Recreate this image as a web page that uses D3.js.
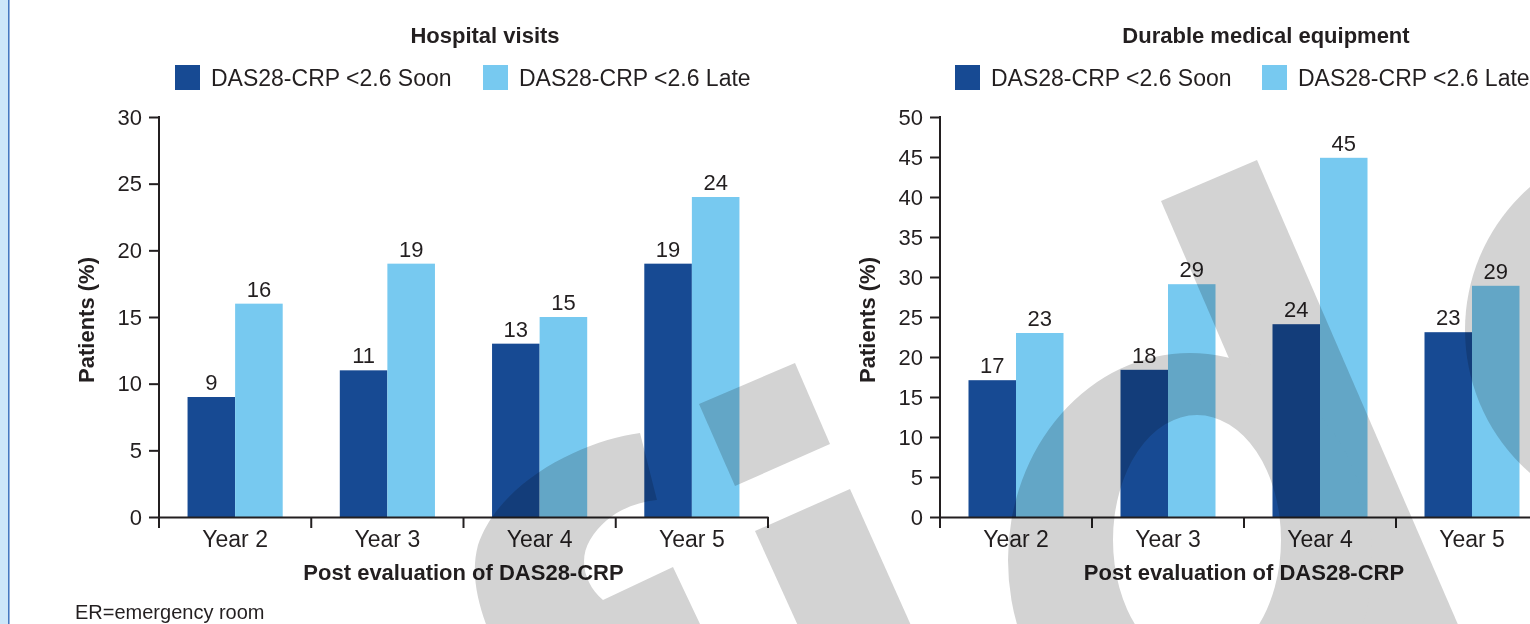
<!DOCTYPE html>
<html>
<head>
<meta charset="utf-8">
<script src="https://cdn.jsdelivr.net/npm/d3@7"></script>
<style>
  html, body { margin: 0; padding: 0; background: #fff; }
  svg { display: block; }
  text { font-family: "Liberation Sans", Arial, sans-serif; fill: #231f20; }
</style>
</head>
<body>
<svg id="chart" width="1530" height="624"></svg>
<script>
// categories and series
const years = ['Year 2', 'Year 3', 'Year 4', 'Year 5'];
const seriesKeys = ['soon', 'late'];
const seriesNames = ['DAS28-CRP <2.6 Soon', 'DAS28-CRP <2.6 Late'];

// Hospital visits (% patients)
const hospitalSoon = [9, 11, 13, 19];
const hospitalLate = [16, 19, 15, 24];
const hospitalTicks = [0, 5, 10, 15, 20, 25, 30];

// Durable medical equipment (% patients)
const equipSoon = [17.1, 18.4, 24.1, 23.1];
const equipLate = [23, 29.1, 44.9, 28.9];
const equipTicks = [0, 5, 10, 15, 20, 25, 30, 35, 40, 45, 50];

const COLORS = { soon: '#174a93', late: '#77c9f0' };
const INK = '#231f20';
const Y_TOP = 117, Y_BOTTOM = 517;

const svg = d3.select('#chart');
svg.append('rect').attr('width', 1530).attr('height', 624).attr('fill', '#fff');

// page edge strip on the left
svg.append('rect').attr('x', 0).attr('y', 0).attr('width', 8.5).attr('height', 624).attr('fill', '#cce7f9');
svg.append('line').attr('x1', 8.8).attr('x2', 8.8).attr('y1', 0).attr('y2', 624)
    .attr('stroke', '#3d73bd').attr('stroke-width', 1.5);

function drawPanel(cfg) {
    const g = svg.append('g');
    const data = years.map((yr, i) => ({ year: yr, soon: cfg.soon[i], late: cfg.late[i] }));

    const x = d3.scaleBand().domain(years).range([cfg.x0, cfg.x1]);
    const xs = d3.scaleBand().domain(seriesKeys).range([0, x.bandwidth()]).paddingOuter(0.6);
    const y = d3.scaleLinear().domain([0, d3.max(cfg.ticks)]).range([Y_BOTTOM, Y_TOP]);

    // title
    g.append('text')
        .attr('x', cfg.titleX).attr('y', 43)
        .attr('text-anchor', 'middle')
        .style('font-size', '22px').style('font-weight', 'bold')
        .text(cfg.title);

    // legend
    seriesKeys.forEach((k, i) => {
        const lx = cfg.x0 + cfg.legendOffsets[i];
        g.append('rect').attr('x', lx).attr('y', 65).attr('width', 25).attr('height', 25).attr('fill', COLORS[k]);
        g.append('text').attr('x', lx + 36).attr('y', 86)
            .style('font-size', '23px')
            .text(seriesNames[i]);
    });

    // bars
    const groups = g.selectAll('.grp').data(data).join('g')
        .attr('transform', d => `translate(${x(d.year)},0)`);

    groups.selectAll('rect').data(d => seriesKeys.map(k => ({ key: k, value: d[k] }))).join('rect')
        .attr('x', d => xs(d.key))
        .attr('width', xs.bandwidth())
        .attr('y', d => y(d.value))
        .attr('height', d => y(0) - y(d.value))
        .attr('fill', d => COLORS[d.key]);

    groups.selectAll('text.val').data(d => seriesKeys.map(k => ({ key: k, value: d[k] }))).join('text')
        .attr('class', 'val')
        .attr('x', d => xs(d.key) + xs.bandwidth() / 2)
        .attr('y', d => y(d.value) - 7)
        .attr('text-anchor', 'middle')
        .style('font-size', '22px')
        .text(d => d3.format('.0f')(d.value));

    // y axis
    const yAxis = g.append('g')
        .attr('transform', `translate(${cfg.x0},0)`)
        .call(d3.axisLeft(y).tickValues(cfg.ticks).tickSize(10).tickSizeOuter(0).tickPadding(7));
    yAxis.selectAll('text').style('font-size', '22px').attr('font-family', null).attr('fill', INK);
    yAxis.selectAll('line, path').attr('stroke', INK).attr('stroke-width', 2);
    yAxis.select('.domain').attr('d', `M0,${Y_TOP - 1}V${Y_BOTTOM}`);

    // x axis: baseline with ticks at band edges, labels at band centres
    const xAxis = g.append('g')
        .attr('transform', `translate(0,${Y_BOTTOM})`)
        .call(d3.axisBottom(x).tickSize(0).tickSizeOuter(0).tickPadding(14));
    xAxis.selectAll('text').style('font-size', '23px').attr('font-family', null).attr('fill', INK);
    xAxis.select('.domain').attr('stroke', INK).attr('stroke-width', 2);

    const edges = years.map(d => x(d)).concat([x.range()[1]]);
    xAxis.selectAll('line.edge').data(edges).join('line')
        .attr('class', 'edge')
        .attr('x1', d => d).attr('x2', d => d)
        .attr('y1', 0).attr('y2', 11)
        .attr('stroke', INK).attr('stroke-width', 2);

    // axis titles
    g.append('text')
        .attr('transform', `translate(${cfg.x0 - 65},${(Y_TOP + Y_BOTTOM) / 2 + 3}) rotate(-90)`)
        .attr('text-anchor', 'middle')
        .style('font-size', '22px').style('font-weight', 'bold')
        .text('Patients (%)');

    g.append('text')
        .attr('x', (cfg.x0 + cfg.x1) / 2).attr('y', 580)
        .attr('text-anchor', 'middle')
        .style('font-size', '22px').style('font-weight', 'bold')
        .text('Post evaluation of DAS28-CRP');
}

drawPanel({
    title: 'Hospital visits', titleX: 485,
    soon: hospitalSoon, late: hospitalLate, ticks: hospitalTicks,
    x0: 159, x1: 768, legendOffsets: [16, 324]
});

drawPanel({
    title: 'Durable medical equipment', titleX: 1266,
    soon: equipSoon, late: equipLate, ticks: equipTicks,
    x0: 940, x1: 1548, legendOffsets: [15, 322]
});

// footnote
svg.append('text').attr('x', 75).attr('y', 619)
    .style('font-size', '20px')
    .text('ER=emergency room');

// grey watermark letters laid over the figure
const wm = svg.append('g').style('mix-blend-mode', 'multiply').attr('fill', '#d3d3d3');
wm.append('path').attr('d',
    'M640,433 C585,440 500,480 478,545 C470,575 478,605 492,640 L706,640 L700,624 L673,567 L603,600 ' +
    'C585,585 578,560 590,540 C605,515 630,503 657,500 Z');
wm.append('path').attr('d', 'M699,404 L795,363 L830,444 L735,486 Z');
wm.append('path').attr('d', 'M755,531 L850,489 L922,650 L809,650 Z');
wm.append('path').attr('d', 'M1161,201 L1257,160 L1469,650 L1355,650 Z');
wm.append('path').attr('fill-rule', 'evenodd').attr('d',
    'M1008,560 a182,207 0 1,0 364,0 a182,207 0 1,0 -364,0 Z ' +
    'M1113,540 a84,125 0 1,0 168,0 a84,125 0 1,0 -168,0 Z');
wm.append('circle').attr('cx', 1655).attr('cy', 330).attr('r', 190);
</script>
</body>
</html>
